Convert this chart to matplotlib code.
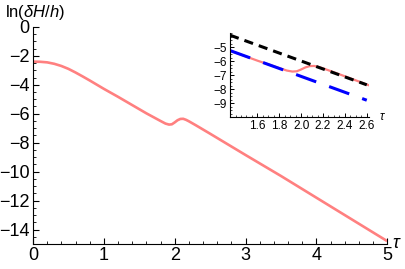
import numpy as np
import matplotlib.pyplot as plt
from matplotlib.ticker import MultipleLocator

plt.rcParams['font.family'] = ['Liberation Sans', 'DejaVu Sans']
plt.rcParams['mathtext.fontset'] = 'custom'
plt.rcParams['mathtext.it'] = 'Liberation Sans:italic'
plt.rcParams['mathtext.rm'] = 'Liberation Sans'

# main curve ln(dH/h) vs tau
tau = [0.0, 0.1, 0.2, 0.3, 0.4, 0.5, 0.6, 0.7, 0.8, 0.9, 1.0, 1.2, 1.4, 1.6,
       1.8, 1.87, 1.92, 1.96, 2.0, 2.04, 2.08, 2.12, 2.16, 2.2, 2.3, 2.5,
       3.0, 3.5, 4.0, 4.5, 5.0]
lnH = [-2.4, -2.41, -2.45, -2.55, -2.7, -2.9, -3.15, -3.42, -3.7, -3.99, -4.28,
       -4.83, -5.4, -5.97, -6.5, -6.68, -6.75, -6.73, -6.6, -6.45, -6.36, -6.35,
       -6.42, -6.52, -6.8, -7.38, -8.85, -10.3, -11.8, -13.3, -14.8]

# reference slopes shown in the inset
ref_tau = [1.35, 2.6]
upper = [-4.15, -7.7]
lower = [-5.25, -8.8]

pink = '#ff8080'

fig = plt.figure(figsize=(4.05, 2.69), dpi=100)

ax = fig.add_axes([0.0815, 0.093, 0.8745, 0.807])
ax.plot(tau, lnH, color=pink, lw=1.9, solid_capstyle='butt')
ax.set_xlim(0, 5)
ax.set_ylim(-15, 0)
ax.spines['top'].set_visible(False)
ax.spines['right'].set_visible(False)
ax.xaxis.set_major_locator(MultipleLocator(1))
ax.xaxis.set_minor_locator(MultipleLocator(0.2))
ax.yaxis.set_major_locator(MultipleLocator(2))
ax.yaxis.set_minor_locator(MultipleLocator(0.5))
ax.tick_params(direction='in', labelsize=13, length=4, width=0.8, pad=2.5)
ax.tick_params(which='minor', direction='in', length=2, width=0.6)
ax.set_yticks(range(-14, 1, 2))
ax.set_yticklabels(['\u2212%d' % -v if v < 0 else '%d' % v for v in range(-14, 1, 2)])
fig.text(0.012, 0.955, r'ln($\delta H/h$)', fontsize=12, va='center')
fig.text(0.968, 0.095, r'$\tau$', fontsize=13, va='center')

# inset
ins = fig.add_axes([0.568, 0.565, 0.343, 0.312])
ins.plot(tau, lnH, color=pink, lw=1.6)
ins.plot(ref_tau, upper, color='black', lw=2.2, dashes=(3, 2))
ins.plot(ref_tau, lower, color='blue', lw=2.2, dashes=(7, 4.5))
ins.set_xlim(1.35, 2.62)
ins.set_ylim(-10, -4)
ins.spines['top'].set_visible(False)
ins.spines['right'].set_visible(False)
ins.set_xticks([1.6, 1.8, 2.0, 2.2, 2.4, 2.6])
ins.xaxis.set_minor_locator(MultipleLocator(0.05))
ins.set_yticks([-9, -8, -7, -6, -5])
ins.set_yticklabels(['\u22129', '\u22128', '\u22127', '\u22126', '\u22125'])
ins.yaxis.set_minor_locator(MultipleLocator(0.25))
ins.tick_params(direction='in', labelsize=8.5, length=3, width=0.7, pad=2)
ins.tick_params(which='minor', direction='in', length=1.5, width=0.5)
fig.text(0.935, 0.565, r'$\tau$', fontsize=8.5, va='center')

fig.savefig('out.png', dpi=100)
